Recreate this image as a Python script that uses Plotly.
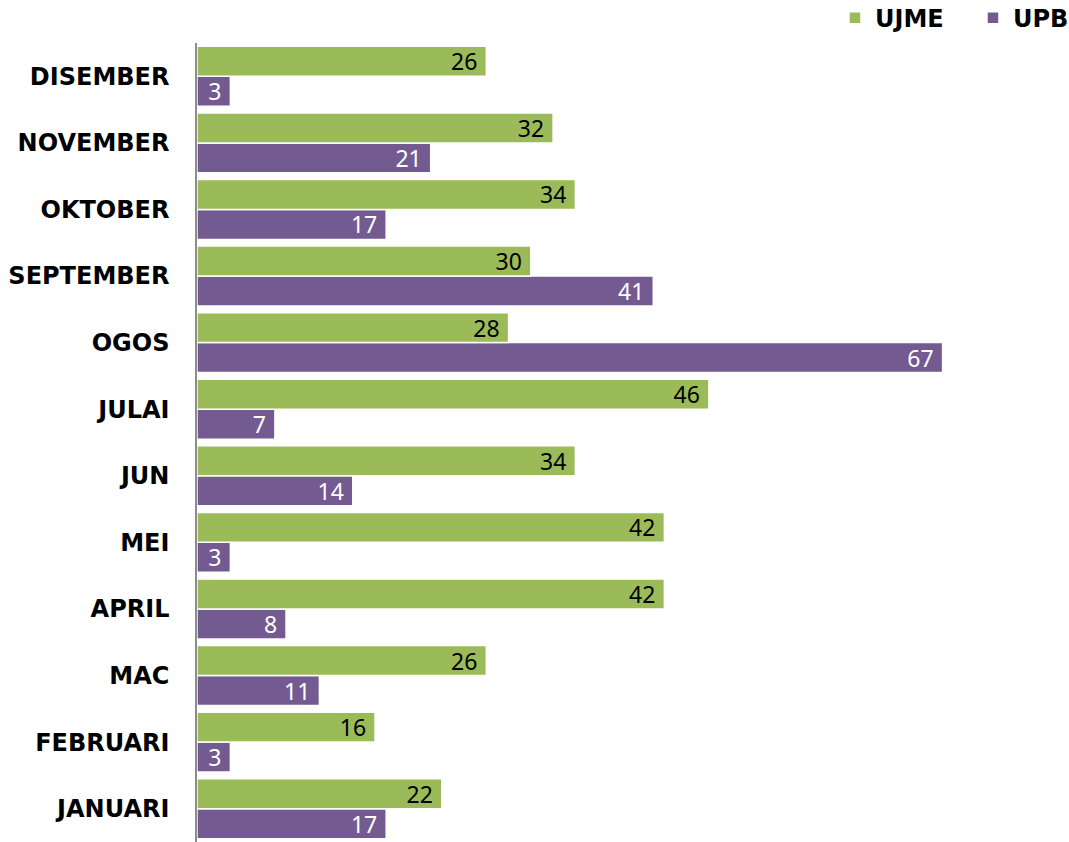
import plotly.graph_objects as go

# Months, bottom to top on the category axis
months = ["JANUARI", "FEBRUARI", "MAC", "APRIL", "MEI", "JUN",
          "JULAI", "OGOS", "SEPTEMBER", "OKTOBER", "NOVEMBER", "DISEMBER"]
ujme = [22, 16, 26, 42, 42, 34, 46, 28, 30, 34, 32, 26]
upb = [17, 3, 11, 8, 3, 14, 7, 67, 41, 17, 21, 3]

green = "#9BBB59"
purple = "#735A91"

fig = go.Figure()
# UPB added first so it sits below UJME within each month group
fig.add_trace(go.Bar(
    y=months, x=upb, name="UPB", orientation="h",
    marker=dict(color=purple, line=dict(color="white", width=1.5)),
    texttemplate="%{x}\u00a0", textposition="inside", insidetextanchor="end",
    textangle=0, textfont=dict(color="white", size=23, family="Noto Sans"),
    constraintext="none",
))
fig.add_trace(go.Bar(
    y=months, x=ujme, name="UJME", orientation="h",
    marker=dict(color=green, line=dict(color="white", width=1.5)),
    texttemplate="%{x}\u00a0", textposition="inside", insidetextanchor="end",
    textangle=0, textfont=dict(color="black", size=23, family="Noto Sans"),
    constraintext="none",
))

fig.update_layout(
    width=1069, height=842,
    margin=dict(l=197, r=4, t=43, b=0, autoexpand=False),
    barmode="group", bargap=0.1, bargroupgap=0.0,
    plot_bgcolor="white", paper_bgcolor="white",
    uniformtext=dict(minsize=23, mode="show"),
    font=dict(family="DejaVu Sans", color="black"),
    legend=dict(
        orientation="h", traceorder="reversed",
        x=0.735, xanchor="left", y=1.031, yanchor="middle",
        font=dict(size=24, family="DejaVu Sans", weight="bold"),
        itemwidth=30, entrywidth=93, entrywidthmode="pixels",
    ),
    xaxis=dict(range=[0, 78], visible=False),
    yaxis=dict(
        showline=True, linecolor="#8C8C8C", linewidth=1.5,
        showgrid=False, ticks="", ticklabelstandoff=21,
        tickfont=dict(size=24, family="DejaVu Sans", weight="bold"),
    ),
)

fig.write_html("out.html")
